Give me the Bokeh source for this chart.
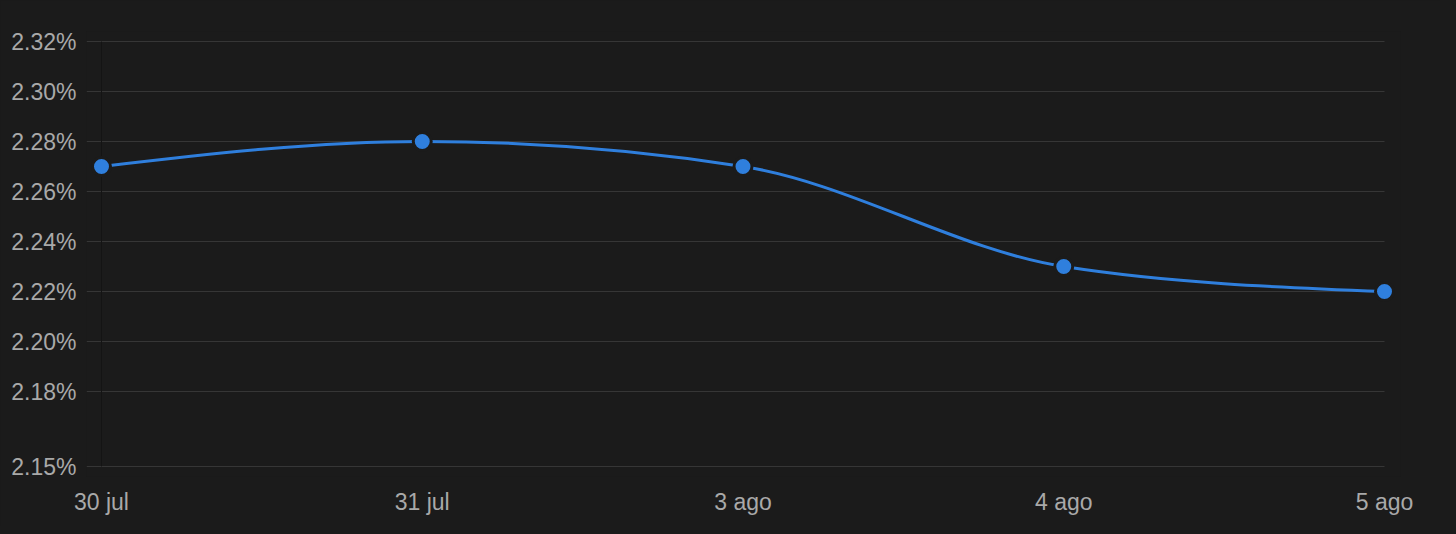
import numpy as np

from bokeh.plotting import figure
from bokeh.models import Range1d, FixedTicker, PrintfTickFormatter, GlobalInlineStyleSheet
from bokeh.embed import file_html
from bokeh.resources import INLINE

# datos
fechas = ["30 jul", "31 jul", "3 ago", "4 ago", "5 ago"]
tasa = [2.27, 2.28, 2.27, 2.23, 2.22]
y_ticks = [2.15, 2.18, 2.20, 2.22, 2.24, 2.26, 2.28, 2.30, 2.32]

BG = "#1b1b1b"
GRID = "#363636"
TXT = "#a9a9a9"
AZUL = "#2f7fdd"
FONT = "Liberation Sans"

x = np.arange(len(fechas), dtype=float)
y = np.array(tasa)


def monotone_tangents(x, y):
    # pendientes tipo curva monotona (misma regla que d3 curveMonotoneX)
    h = np.diff(x)
    s = np.diff(y) / h
    t = np.zeros_like(y)
    for i in range(1, len(y) - 1):
        p = (s[i - 1] * h[i] + s[i] * h[i - 1]) / (h[i - 1] + h[i])
        t[i] = (np.sign(s[i - 1]) + np.sign(s[i])) * min(abs(s[i - 1]), abs(s[i]), 0.5 * abs(p))
    t[0] = (3 * s[0] - t[1]) / 2
    t[-1] = (3 * s[-1] - t[-2]) / 2
    return t


t = monotone_tangents(x, y)
dx = np.diff(x)

p = figure(width=1440, height=526,
           x_range=Range1d(-15 / 320.75, 4 + 16 / 320.75),
           y_range=Range1d(2.146, 2.324),
           output_backend="svg", toolbar_location=None,
           min_border_left=86, min_border_right=40,
           min_border_top=31, min_border_bottom=50)

p.background_fill_color = BG
p.border_fill_color = BG
p.outline_line_color = None
p.xgrid.visible = False
p.ygrid.visible = False

# lineas de guia horizontales
xs0 = [p.x_range.start] * len(y_ticks)
xs1 = [x[-1]] * len(y_ticks)
p.segment(xs0, y_ticks, xs1, y_ticks, line_color=GRID, line_width=1)

# eje vertical
p.segment([x[0]], [y_ticks[0]], [x[0]], [y_ticks[-1]], line_color="#141414", line_width=1)

# curva
p.bezier(x0=x[:-1], y0=y[:-1], x1=x[1:], y1=y[1:],
         cx0=x[:-1] + dx / 3, cy0=y[:-1] + dx * t[:-1] / 3,
         cx1=x[1:] - dx / 3, cy1=y[1:] - dx * t[1:] / 3,
         line_color=AZUL, line_width=3)

p.scatter(x, y, size=18, fill_color=AZUL, line_color=BG, line_width=3)

# ejes
p.yaxis.ticker = FixedTicker(ticks=y_ticks)
p.yaxis.formatter = PrintfTickFormatter(format="%.2f%%")
p.xaxis.ticker = FixedTicker(ticks=list(x))
p.xaxis.major_label_overrides = {float(i): f for i, f in enumerate(fechas)}

for ax in (p.xaxis, p.yaxis):
    ax.axis_line_color = None
    ax.major_tick_line_color = None
    ax.minor_tick_line_color = None
    ax.major_label_text_color = TXT
    ax.major_label_text_font = FONT
    ax.major_label_text_font_size = "23px"

p.yaxis.major_label_standoff = 4
p.xaxis.major_label_standoff = 6

p.stylesheets = [GlobalInlineStyleSheet(css="body { background-color: #1b1b1b; }")]

open("out.html", "w").write(file_html(p, INLINE))
